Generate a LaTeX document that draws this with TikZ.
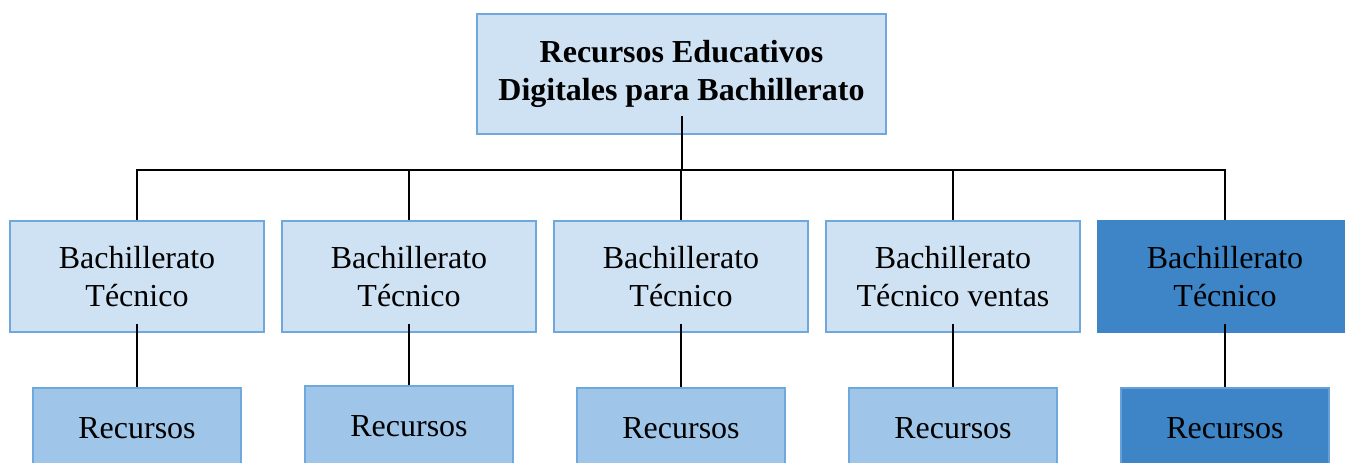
\documentclass[tikz,border=0pt]{standalone}
\usepackage{fontspec}
\setmainfont{Liberation Serif}
\usepackage{tikz}
\usetikzlibrary{positioning,calc}
\definecolor{lightfill}{RGB}{207,226,243}
\definecolor{lineblue}{RGB}{111,168,220}
\definecolor{midfill}{RGB}{159,197,232}
\definecolor{darkfill}{RGB}{61,133,198}
\begin{document}
\begin{tikzpicture}[x=1pt,y=-1pt,
	box/.style={rectangle, draw=lineblue, line width=1.6pt, align=center, inner sep=0pt, font=\fontsize{32}{37.5}\selectfont},
	topbox/.style={box, fill=lightfill, minimum width=409pt, minimum height=120pt, font=\fontsize{32}{38}\selectfont\bfseries},
	bach/.style={box, fill=lightfill, minimum width=254pt, minimum height=111pt, execute at begin node=\rule{0pt}{31pt}},
	rec/.style={box, fill=midfill, minimum width=208pt, minimum height=80pt},
	link/.style={line width=2pt, black}]
		\useasboundingbox (0,0) rectangle (1345,463);
		\clip (0,0) rectangle (1345,463);
		\node at (681.5,74) [topbox] (top) {Recursos Educativos\\Digitales para Bachillerato};
		\node at (137,276.5) [bach] (B1) {Bachillerato\\Técnico};
		\node[bach] (B2) [right of=B1, node distance=272pt] {Bachillerato\\Técnico};
		\node[bach] (B3) [right of=B2, node distance=272pt] {Bachillerato\\Técnico};
		\node[bach] (B4) [right of=B3, node distance=272pt] {Bachillerato\\Técnico ventas};
		\node[bach, fill=darkfill, draw=darkfill] (B5) [right of=B4, node distance=272pt] {Bachillerato\\Técnico};
		\node[rec] (R1) [below of=B1, node distance=151.5pt] {Recursos};
		\node[rec, yshift=2pt] (R2) [below of=B2, node distance=151.5pt] {Recursos};
		\node[rec] (R3) [below of=B3, node distance=151.5pt] {Recursos};
		\node[rec] (R4) [below of=B4, node distance=151.5pt] {Recursos};
		\node[rec, fill=darkfill, draw=lineblue!80!darkfill] (R5) [below of=B5, node distance=151.5pt] {Recursos};
		\coordinate (bus) at (681.5,170);
		% connectors
		\draw[link] ([yshift=19pt]top.south) -- (bus);
		\draw[link] (B1.north) |- (bus) -| (B5.north);
		\draw[link] (B2.north) -- (B2.north |- bus);
		\draw[link] (B3.north) -- (B3.north |- bus);
		\draw[link] (B4.north) -- (B4.north |- bus);
		\draw[link] ([yshift=9pt]B1.south) -- (R1);
		\draw[link] ([yshift=9pt]B2.south) -- (R2);
		\draw[link] ([yshift=9pt]B3.south) -- (R3);
		\draw[link] ([yshift=9pt]B4.south) -- (R4);
		\draw[link] ([yshift=9pt]B5.south) -- (R5);
\end{tikzpicture}
\end{document}
